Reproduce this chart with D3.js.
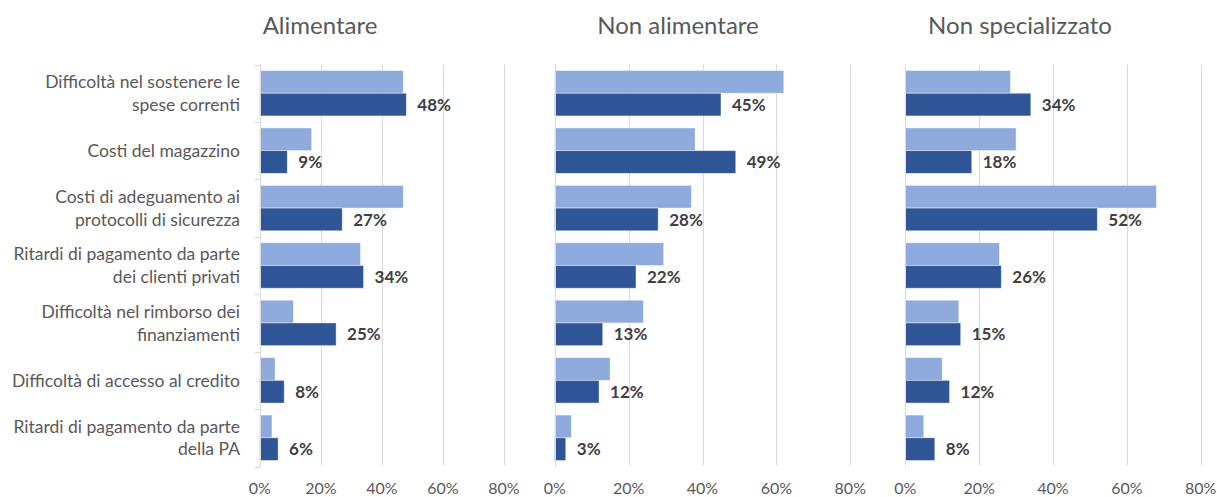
<!DOCTYPE html>
<html>
<head>
<meta charset="utf-8">
<script src="https://cdn.jsdelivr.net/npm/d3@7"></script>
<style>
  html, body { margin: 0; padding: 0; background: #ffffff; }
  svg { display: block; font-family: Lato, "Open Sans", sans-serif; }
</style>
</head>
<body>
<svg id="chart" width="1217" height="497"></svg>
<script>
// Categories (top to bottom)
const categories = [
  "Difficoltà nel sostenere le spese correnti",
  "Costi del magazzino",
  "Costi di adeguamento ai protocolli di sicurezza",
  "Ritardi di pagamento da parte dei clienti privati",
  "Difficoltà nel rimborso dei finanziamenti",
  "Difficoltà di accesso al credito",
  "Ritardi di pagamento da parte della PA"
];
// Wrapped category labels as shown on the axis
const categoryLines = [
  ["Difficoltà nel sostenere le", "spese correnti"],
  ["Costi del magazzino"],
  ["Costi di adeguamento ai", "protocolli di sicurezza"],
  ["Ritardi di pagamento da parte", "dei clienti privati"],
  ["Difficoltà nel rimborso dei", "finanziamenti"],
  ["Difficoltà di accesso al credito"],
  ["Ritardi di pagamento da parte", "della PA"]
];

const panelTitles = ["Alimentare", "Non alimentare", "Non specializzato"];
const seriesNames = ["precedente", "attuale"];

// Light series (unlabelled), per panel, in %
const previousAlimentare       = [47, 17, 47, 33, 11, 5, 4];
const previousNonAlimentare    = [62, 38, 37, 29.5, 24, 15, 4.5];
const previousNonSpecializzato = [28.5, 30, 68, 25.5, 14.5, 10, 5];

// Dark series (labelled), per panel, in %
const currentAlimentare       = [48, 9, 27, 34, 25, 8, 6];
const currentNonAlimentare    = [45, 49, 28, 22, 13, 12, 3];
const currentNonSpecializzato = [34, 18, 52, 26, 15, 12, 8];

const xTicks = [0, 20, 40, 60, 80];

const previousByPanel = [previousAlimentare, previousNonAlimentare, previousNonSpecializzato];
const currentByPanel  = [currentAlimentare, currentNonAlimentare, currentNonSpecializzato];

// Layout
const layout = [
  { left: 259.8, right: 504.0, titleX: 320 },
  { left: 554.7, right: 850.3, titleX: 678 },
  { left: 905.3, right: 1200.7, titleX: 1020 }
];
const plotTop = 64.5, plotBottom = 466.5;
const colors = { precedente: "#8FAADC", attuale: "#2F5597" };
const gridColor = "#D9D9D9";
const textColor = "#595959";
const labelColor = "#404040";

const svg = d3.select("#chart");

const y = d3.scaleBand().domain(categories).range([plotTop, plotBottom]).padding(0);
const ySeries = d3.scaleBand().domain(seriesNames).range([0, y.bandwidth()])
  .paddingInner(0).paddingOuter(0.264);

layout.forEach((p, pi) => {
  const x = d3.scaleLinear().domain([0, 80]).range([p.left, p.right]);
  const g = svg.append("g");

  // title
  g.append("text")
    .attr("x", p.titleX).attr("y", 34)
    .attr("text-anchor", "middle")
    .attr("fill", textColor)
    .style("font-size", "24px")
    .text(panelTitles[pi]);

  // vertical gridlines
  g.append("g").selectAll("line").data(xTicks).join("line")
    .attr("x1", d => Math.round(x(d)) + 0.5).attr("x2", d => Math.round(x(d)) + 0.5)
    .attr("y1", plotTop).attr("y2", plotBottom - 1)
    .attr("stroke", gridColor).attr("stroke-width", 1);

  // x tick labels
  g.append("g").selectAll("text").data(xTicks).join("text")
    .attr("x", d => x(d)).attr("y", 494)
    .attr("text-anchor", "middle")
    .attr("fill", textColor)
    .style("font-size", "16px")
    .text(d => d + "%");

  const rows = g.append("g").selectAll("g").data(categories).join("g")
    .attr("transform", c => `translate(0,${y(c)})`);

  // light bars
  rows.append("rect")
    .attr("x", x(0))
    .attr("y", ySeries("precedente"))
    .attr("width", (c, i) => x(previousByPanel[pi][i]) - x(0))
    .attr("height", ySeries.bandwidth())
    .attr("fill", colors.precedente)
    .attr("stroke", "#ffffff").attr("stroke-opacity", 0.55).attr("stroke-width", 0.8);

  // dark bars
  rows.append("rect")
    .attr("x", x(0))
    .attr("y", ySeries("attuale"))
    .attr("width", (c, i) => x(currentByPanel[pi][i]) - x(0))
    .attr("height", ySeries.bandwidth())
    .attr("fill", colors.attuale)
    .attr("stroke", "#ffffff").attr("stroke-opacity", 0.55).attr("stroke-width", 0.8);

  // value labels on dark bars
  rows.append("text")
    .attr("x", (c, i) => x(currentByPanel[pi][i]) + 11)
    .attr("y", ySeries("attuale") + ySeries.bandwidth() / 2)
    .attr("dy", "0.36em")
    .attr("fill", labelColor)
    .style("font-size", "17px")
    .style("font-weight", "bold")
    .text((c, i) => currentByPanel[pi][i] + "%");

  // left axis line on each panel
  const x0 = Math.round(x(0)) + 0.5;
  g.append("line")
    .attr("x1", x0).attr("x2", x0)
    .attr("y1", plotTop).attr("y2", plotBottom)
    .attr("stroke", gridColor).attr("stroke-width", 1);

  if (pi === 0) {
    // tick marks at category boundaries
    const bounds = categories.map(c => y(c)).concat([plotBottom]);
    g.append("g").selectAll("line").data(bounds).join("line")
      .attr("x1", x0 - 6).attr("x2", x0)
      .attr("y1", d => Math.round(d) + 0.5).attr("y2", d => Math.round(d) + 0.5)
      .attr("stroke", gridColor).attr("stroke-width", 1);

    // category labels
    const lab = g.append("g").selectAll("text").data(categoryLines).join("text")
      .attr("text-anchor", "end")
      .attr("fill", textColor)
      .style("font-size", "17.5px")
      .attr("transform", (d, i) => `translate(240,${y(categories[i]) + y.bandwidth() / 2})`);
    lab.each(function(lines) {
      const t = d3.select(this);
      const lh = 22.7;
      const start = -(lines.length - 1) * lh / 2;
      lines.forEach((s, k) => {
        t.append("tspan").attr("x", 0).attr("y", start + k * lh).attr("dy", "0.36em").text(s);
      });
    });
  }
});
</script>
</body>
</html>
